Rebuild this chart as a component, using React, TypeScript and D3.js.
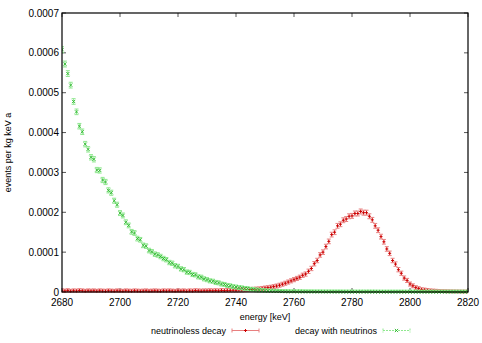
import React from "react";
import * as d3 from "d3";

// energy bins [keV], 1 keV steps from 2680 to 2820
const energyStart = 2680;
const energyEnd = 2820;

// decay with neutrinos (2nbb) [events per kg keV a, x1e-6]
const withNeutrinos = [
  608, 572, 548, 519, 478, 452, 416, 402, 371, 358,
  338, 333, 306, 305, 281, 276, 255, 249, 229, 219,
  198, 192, 175, 167, 151, 148, 134, 131, 117, 115,
  104, 101, 95, 93, 89, 84, 81, 74, 72, 66,
  64, 58, 56, 50, 49, 44, 43, 38, 37, 33,
  31, 28, 27, 24, 23, 20, 19, 16.5, 15.5, 13.5,
  12.5, 11, 10.5, 9, 8.5, 7, 6.5, 5.2, 4.8, 3.8,
  3.3, 2.7, 2.4, 2, 1.8, 1.5, 1.3, 1.1, 1, 0.9,
  0.9, 0.8, 0.8, 0.7, 0.7, 0.6, 0.6, 0.5, 0.5, 0.5,
  0.4, 0.4, 0.4, 0.3, 0.3, 0.3, 0.3, 0.2, 0.2, 0.2,
  0.2, 0.2, 0.1, 0.1, 0.1, 0.1, 0.1, 0.1, 0.1, 0.1,
  0.05, 0.05, 0.05, 0.05, 0.05, 0.05, 0.05, 0.05, 0.05, 0.05,
  0, 0, 0, 0, 0, 0, 0, 0, 0, 0,
  0, 0, 0, 0, 0, 0, 0, 0, 0, 0, 0,
];

// neutrinoless decay (0nbb) [events per kg keV a, x1e-6]
const neutrinoless = [
  3, 2.5, 3.5, 2, 3, 2.5, 3.5, 3, 2, 3,
  2.5, 3, 2, 3, 2.5, 2, 3, 2.5, 2, 3,
  2.5, 2, 3, 2.5, 2, 3, 2.5, 2, 2.5, 3,
  2, 2.5, 3, 2.5, 2, 3, 2.5, 3, 2.5, 2,
  3, 2.5, 3, 2, 3, 2.5, 3.5, 3, 2.5, 3,
  3, 3.5, 3, 3.5, 3, 4, 3.5, 4, 4, 4.5,
  4.5, 5, 5, 5.5, 6, 6.5, 7, 7.5, 8, 9,
  10, 11, 12, 13.5, 15, 17, 19.5, 22, 25, 28,
  31, 34, 37, 42, 45, 52, 59, 71, 79, 93,
  100, 114, 127, 144, 150, 166, 170, 180, 183, 190,
  191, 197, 197, 202, 199, 199, 190, 181, 166, 155,
  139, 126, 108, 97, 79, 70, 56, 47, 35, 29,
  20, 15.5, 11, 8.5, 6, 5, 4, 3, 2.5, 2,
  1.5, 1.2, 1, 0.8, 0.6, 0.5, 0.4, 0.3, 0.2, 0.2, 0.1,
];

const xTicks = [2680, 2700, 2720, 2740, 2760, 2780, 2800, 2820];
const yTicks = [0, 0.0001, 0.0002, 0.0003, 0.0004, 0.0005, 0.0006, 0.0007];
const seriesNames = ["neutrinoless decay", "decay with neutrinos"];
const xTitle = "energy [keV]";
const yTitle = "events per kg keV a";

const W = 482;
const H = 343;
const M = { left: 62, right: 468, top: 13, bottom: 292 };
const FONT = "'Liberation Sans', Arial, Helvetica, sans-serif";
const RED = "#cc0000";
const RED_BAR = "#e88080";
const GREEN = "#2cb82c";
const GREEN_BAR = "#90e890";

type Pt = { e: number; v: number; err: number };

function build(vals: number[]): Pt[] {
  return vals.map((v, i) => ({
    e: energyStart + i,
    v: v * 1e-6,
    err: (4.5 + 0.12 * Math.sqrt(v)) * 1e-6,
  }));
}

export default function App() {
  const x = d3.scaleLinear().domain([energyStart, energyEnd]).range([M.left, M.right]);
  const y = d3.scaleLinear().domain([0, 0.0007]).range([M.bottom, M.top]);
  const red = build(neutrinoless);
  const green = build(withNeutrinos);
  const tickLen = 4;
  const fmt = (d: number) => (d === 0 ? "0" : d.toFixed(4));

  const errBar = (p: Pt, color: string, key: string) => {
    const cx = x(p.e);
    const y1 = Math.min(M.bottom, y(p.v - p.err));
    const y2 = y(p.v + p.err);
    return (
      <g key={key} stroke={color} strokeWidth={1}>
        <line x1={cx} x2={cx} y1={y1} y2={y2} />
        <line x1={cx - 2} x2={cx + 2} y1={y1} y2={y1} />
        <line x1={cx - 2} x2={cx + 2} y1={y2} y2={y2} />
      </g>
    );
  };
  const plus = (cx: number, cy: number, color: string, key: string, s = 1.5) => (
    <g key={key} stroke={color} strokeWidth={1}>
      <line x1={cx - s} x2={cx + s} y1={cy} y2={cy} />
      <line x1={cx} x2={cx} y1={cy - s} y2={cy + s} />
    </g>
  );
  const cross = (cx: number, cy: number, color: string, key: string, s = 1.6) => (
    <g key={key} stroke={color} strokeWidth={0.9}>
      <line x1={cx - s} x2={cx + s} y1={cy - s} y2={cy + s} />
      <line x1={cx - s} x2={cx + s} y1={cy + s} y2={cy - s} />
    </g>
  );

  const legY = 330.5;
  return (
    <svg width={W} height={H} style={{ position: "absolute", left: 0, top: 0 }} fontFamily={FONT}>
      <rect width={W} height={H} fill="#fff" />
      <defs>
        <clipPath id="plotclip">
          <rect x={M.left} y={M.top} width={M.right - M.left} height={M.bottom - M.top + 2} />
        </clipPath>
      </defs>
      {/* ticks */}
      <g stroke="#555" strokeWidth={1}>
        {xTicks.map((t) => (
          <g key={"xt" + t}>
            <line x1={x(t)} x2={x(t)} y1={M.bottom} y2={M.bottom - tickLen} />
            <line x1={x(t)} x2={x(t)} y1={M.top} y2={M.top + tickLen} />
          </g>
        ))}
        {yTicks.map((t) => (
          <g key={"yt" + t}>
            <line x1={M.left} x2={M.left + tickLen} y1={y(t)} y2={y(t)} />
            <line x1={M.right} x2={M.right - tickLen} y1={y(t)} y2={y(t)} />
          </g>
        ))}
      </g>
      {/* data */}
      <g clipPath="url(#plotclip)">
        {red.map((p, i) => errBar(p, RED_BAR, "re" + i))}
        {red.map((p, i) => plus(x(p.e), y(p.v), RED, "rp" + i))}
        {green.map((p, i) => errBar(p, GREEN_BAR, "ge" + i))}
        {green.map((p, i) => cross(x(p.e), y(p.v), GREEN, "gp" + i))}
      </g>
      {/* frame */}
      <rect
        x={M.left}
        y={M.top}
        width={M.right - M.left}
        height={M.bottom - M.top}
        fill="none"
        stroke="#000"
        strokeWidth={1.2}
      />
      {/* tick labels */}
      <g fontSize={10} fill="#000">
        {xTicks.map((t) => (
          <text key={"xl" + t} x={x(t)} y={306} textAnchor="middle">
            {t}
          </text>
        ))}
        {yTicks.map((t) => (
          <text key={"yl" + t} x={M.left - 3} y={y(t) + 3.5} textAnchor="end">
            {fmt(t)}
          </text>
        ))}
      </g>
      <text x={(M.left + M.right) / 2} y={319.5} fontSize={9} textAnchor="middle">
        {xTitle}
      </text>
      <text
        transform={`translate(11, ${(M.top + M.bottom) / 2}) rotate(-90)`}
        fontSize={9}
        textAnchor="middle"
      >
        {yTitle}
      </text>
      {/* legend */}
      <g fontSize={9}>
        <text x={226} y={legY + 3} textAnchor="end">
          {seriesNames[0]}
        </text>
        <g stroke={RED_BAR} strokeWidth={1}>
          <line x1={232} x2={259} y1={legY} y2={legY} />
          <line x1={232} x2={232} y1={legY - 2} y2={legY + 2} />
          <line x1={259} x2={259} y1={legY - 2} y2={legY + 2} />
        </g>
        {plus(245.5, legY, RED, "lp")}
        <text x={377} y={legY + 3} textAnchor="end">
          {seriesNames[1]}
        </text>
        <g stroke={GREEN_BAR} strokeWidth={1} strokeDasharray="2,1">
          <line x1={383} x2={410} y1={legY} y2={legY} />
          <line x1={383} x2={383} y1={legY - 2} y2={legY + 2} />
          <line x1={410} x2={410} y1={legY - 2} y2={legY + 2} />
        </g>
        {cross(396.5, legY, GREEN, "lc")}
      </g>
    </svg>
  );
}
